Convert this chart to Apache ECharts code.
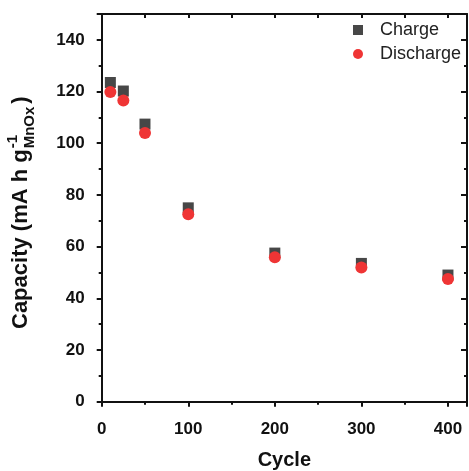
<!DOCTYPE html>
<html>
<head>
<meta charset="utf-8">
<script src="https://cdn.jsdelivr.net/npm/echarts@6/dist/echarts.min.js"></script>
<style>html,body{margin:0;padding:0;background:#fff;}#c{width:469px;height:471px;}</style>
</head>
<body>
<div id="c"></div>
<script>
const cycles = [10, 25, 50, 100, 200, 300, 400];
const charge = [123.5, 120.2, 107.4, 75.0, 57.5, 53.5, 49.0];
const discharge = [119.8, 116.5, 104.0, 72.5, 55.9, 51.9, 47.5];
const seriesNames = ['Charge', 'Discharge'];
const xTitle = 'Cycle';

const FF = '"Liberation Sans", Arial, Helvetica, sans-serif';
const chart = echarts.init(document.getElementById('c'));

function measure(txt, font) {
  const cv = document.createElement('canvas').getContext('2d');
  cv.font = font;
  return cv.measureText(txt).width;
}
const mainFont = 'bold 22px ' + FF;
const smallFont = 'bold 15px ' + FF;
const mainTxt = 'Capacity (mA h g';
const wMain = measure(mainTxt, mainFont);
const wSup = measure('-1', smallFont);
const wSub = measure('MnOx', smallFont);

const axisCommon = {
  type: 'value',
  axisLine: {show: true, onZero: false, lineStyle: {color: '#111', width: 2}},
  splitLine: {show: false},
  minorSplitLine: {show: false}
};

const option = {
  backgroundColor: '#fff',
  animation: false,
  grid: {left: 101.7, right: 2, top: 14, bottom: 69.3, containLabel: false, outerBoundsMode: 'none'},
  legend: {
    orient: 'vertical', left: 348, top: 16, itemWidth: 10, itemHeight: 10, itemGap: 6,
    textStyle: {fontFamily: FF, fontSize: 18, color: '#222', padding: [0, 0, 0, 12]},
    data: [{name: seriesNames[0], icon: 'rect'}, {name: seriesNames[1], icon: 'circle'}]
  },
  xAxis: [
    Object.assign({}, axisCommon, {
      position: 'bottom', min: 0, max: 422, interval: 100,
      axisTick: {show: true, inside: false, length: 5, lineStyle: {width: 2, color: '#111'}},
      minorTick: {show: true, splitNumber: 2, length: 3, lineStyle: {width: 2, color: '#111'}},
      axisLabel: {showMaxLabel: false, margin: 19, fontFamily: FF, fontWeight: 'bold', fontSize: 17, color: '#111'},
      name: xTitle, nameLocation: 'middle', nameGap: 49,
      nameTextStyle: {fontFamily: FF, fontWeight: 'bold', fontSize: 20, color: '#111'}
    }),
    Object.assign({}, axisCommon, {
      position: 'top', min: 0, max: 422, interval: 100,
      axisTick: {show: true, inside: true, length: 4, lineStyle: {width: 2, color: '#111'}},
      minorTick: {show: true, splitNumber: 2, length: 4, lineStyle: {width: 2, color: '#111'}},
      axisLabel: {show: false}
    })
  ],
  yAxis: [
    Object.assign({}, axisCommon, {
      position: 'left', min: 0, max: 150, interval: 20,
      axisTick: {show: true, inside: false, length: 5, lineStyle: {width: 2, color: '#111'}},
      minorTick: {show: true, splitNumber: 2, length: 3, lineStyle: {width: 2, color: '#111'}},
      axisLabel: {showMaxLabel: false, margin: 17, fontFamily: FF, fontWeight: 'bold', fontSize: 17, color: '#111'}
    }),
    Object.assign({}, axisCommon, {
      position: 'right', min: 0, max: 150, interval: 20,
      axisTick: {show: true, inside: true, length: 6, lineStyle: {width: 2, color: '#111'}},
      minorTick: {show: true, splitNumber: 2, length: 3, lineStyle: {width: 2, color: '#111'}},
      axisLabel: {show: false}
    })
  ],
  graphic: [{
    type: 'group', x: 21, y: 329, rotation: Math.PI / 2,
    children: [
      {type: 'text', x: 0, y: 0, style: {text: mainTxt, font: mainFont, fill: '#111', verticalAlign: 'middle', textVerticalAlign: 'middle', align: 'left', textAlign: 'left'}},
      {type: 'text', x: wMain + 1, y: -8, style: {text: '-1', font: smallFont, fill: '#111', verticalAlign: 'middle', textVerticalAlign: 'middle', align: 'left', textAlign: 'left'}},
      {type: 'text', x: wMain + 1, y: 9, style: {text: 'MnOx', font: smallFont, fill: '#111', verticalAlign: 'middle', textVerticalAlign: 'middle', align: 'left', textAlign: 'left'}},
      {type: 'text', x: wMain + 2 + Math.max(wSup, wSub) + 2, y: 0, style: {text: ')', font: mainFont, fill: '#111', verticalAlign: 'middle', textVerticalAlign: 'middle', align: 'left', textAlign: 'left'}}
    ]
  }],
  series: [
    {name: seriesNames[0], type: 'scatter', symbol: 'rect', symbolSize: 11,
     itemStyle: {color: '#474747', opacity: 1}, data: cycles.map((c, i) => [c, charge[i]]), z: 2},
    {name: seriesNames[1], type: 'scatter', symbol: 'circle', symbolSize: 12,
     itemStyle: {color: '#ef3535', opacity: 1}, data: cycles.map((c, i) => [c, discharge[i]]), z: 3}
  ]
};
chart.setOption(option);
</script>
</body>
</html>
